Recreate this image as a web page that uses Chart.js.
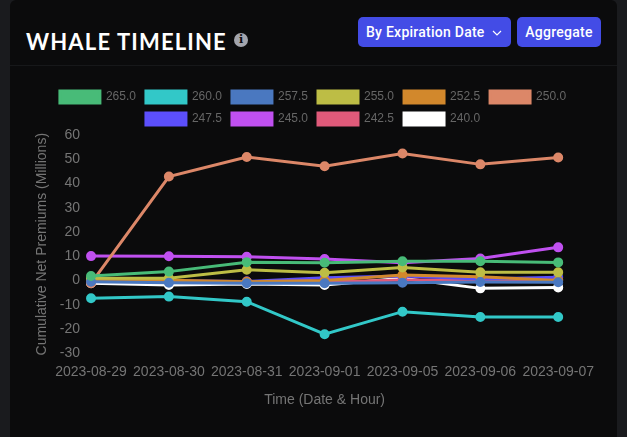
<!DOCTYPE html>
<html><head><meta charset="utf-8">
<script src="https://cdn.jsdelivr.net/npm/chart.js@4"></script>
<style>
html,body{margin:0;padding:0;width:627px;height:437px;overflow:hidden;background:#1a1b1e;font-family:"Liberation Sans",sans-serif}
#card{position:absolute;left:10px;top:0;width:607px;height:437px;background:#0b0b0c;border-radius:6px 6px 0 0}
#rule{position:absolute;left:10px;top:65px;width:607px;height:1px;background:#17181a}
#title{position:absolute;left:26px;top:28px;font:700 22px/28px Lato,sans-serif;letter-spacing:1.15px;color:#fff;white-space:nowrap}
#info{position:absolute;left:234px;top:33px;width:14px;height:14px;border-radius:50%;background:#a3a5ad;color:#0b0b0c;font:700 11px/14px "DejaVu Serif",serif;text-align:center}
.btn{position:absolute;top:17px;height:30px;background:#434ce6;border-radius:5px;color:#fff;font:500 14px/30px Roboto,sans-serif;letter-spacing:.25px;white-space:nowrap;box-sizing:border-box}
#b1{left:358px;width:153px;padding-left:8px}
#b2{left:517px;width:84px;text-align:center}
#b1 svg{position:absolute;left:134px;top:13px}
#wrap{position:absolute;left:30px;top:81px;width:566px;height:332px}
</style></head><body>
<div id="card"></div><div id="rule"></div>
<div id="title">WHALE TIMELINE</div><div id="info">i</div>
<div class="btn" id="b1">By Expiration Date<svg width="10" height="6" viewBox="0 0 10 6"><path d="M1 1l4 4 4-4" fill="none" stroke="#fff" stroke-width="1.2"/></svg></div>
<div class="btn" id="b2">Aggregate</div>
<div id="wrap"><canvas id="c"></canvas></div>
<script>
const categories=["2023-08-29","2023-08-30","2023-08-31","2023-09-01","2023-09-05","2023-09-06","2023-09-07"];
const strikes=["265.0","260.0","257.5","255.0","252.5","250.0","247.5","245.0","242.5","240.0"];
const colors=["#48bb78","#32c8c8","#4a78c0","#bdbd45","#d2882c","#dc8768","#5c4ffc","#c050f0","#e05a7a","#ffffff"];
const s265=[1.9,3.7,7.6,7.4,8.0,8.0,7.5];
const s260=[-7.3,-6.6,-8.7,-22.1,-12.8,-15.0,-15.0];
const s257=[-0.5,-0.9,-1.1,-1.1,-0.9,-0.6,-0.7];
const s255=[1.0,1.0,4.5,3.2,5.4,3.4,3.4];
const s252=[0.4,0.1,-0.5,0.0,2.3,1.6,0.0];
const s250=[-1.1,42.9,50.9,47.1,52.4,47.9,50.7];
const s247=[0.2,-0.1,-0.4,1.2,1.9,0.7,1.4];
const s245=[10.1,10.0,9.8,8.9,7.4,9.1,13.7];
const s242=[0.1,-0.3,-0.4,-0.6,0.2,0.2,0.5];
const s240=[-1.1,-1.8,-1.4,-1.8,1.0,-3.2,-2.8];
const series=[s265,s260,s257,s255,s252,s250,s247,s245,s242,s240];
const yTicks=[60,50,40,30,20,10,0,-10,-20,-30];
const gray="#757575";
new Chart(document.getElementById("c"),{type:"line",
data:{labels:categories,datasets:series.map((d,i)=>({label:strikes[i],data:d,borderColor:colors[i],backgroundColor:colors[i],borderWidth:3,pointRadius:3.5,pointHoverRadius:3.5,tension:0}))},
options:{responsive:true,maintainAspectRatio:false,animation:false,
plugins:{legend:{position:"top",labels:{color:"#666",font:{size:12,family:"Liberation Sans"}}},tooltip:{enabled:false}},
scales:{
x:{grid:{display:false},border:{display:false},ticks:{color:gray,padding:2,font:{size:14,family:"Liberation Sans"},maxRotation:0,autoSkip:false},
title:{display:true,text:"Time (Date & Hour)",color:gray,font:{size:14,family:"Liberation Sans"},padding:{top:10,bottom:4}}},
y:{min:-30,max:60,grid:{display:false},border:{display:false},afterBuildTicks:a=>{a.ticks=yTicks.map(v=>({value:v}))},ticks:{color:gray,font:{size:14,family:"Liberation Sans"}},
title:{display:true,text:"Cumulative Net Premiums (Millions)",color:gray,font:{size:14,family:"Liberation Sans"},padding:{top:4,bottom:6}}}
}}});
</script></body></html>
